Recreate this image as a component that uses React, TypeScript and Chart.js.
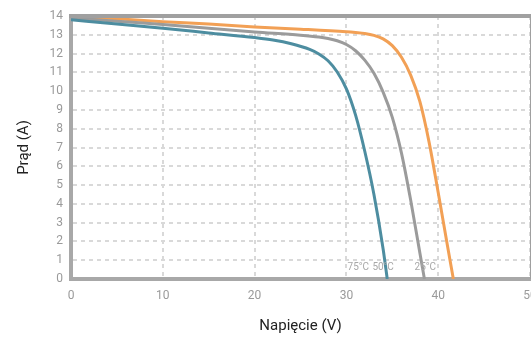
import React, { useEffect, useRef } from "react";
import { Chart, registerables } from "chart.js";

Chart.register(...registerables);

const v75 = [0, 5, 10, 15, 20, 22, 24, 26, 27, 28, 29, 30, 31, 32, 33, 34, 34.45];
const i75 = [13.8, 13.57, 13.35, 13.1, 12.85, 12.72, 12.52, 12.22, 11.98, 11.62, 11.02, 10.12, 8.72, 6.8, 4.5, 1.6, 0];

const v50 = [0, 5, 10, 15, 20, 25, 27, 28, 29, 30, 31, 32, 33, 34, 35, 36, 37, 38, 38.5];
const i50 = [13.9, 13.72, 13.55, 13.35, 13.15, 12.98, 12.88, 12.8, 12.68, 12.48, 12.15, 11.65, 10.95, 9.95, 8.6, 6.7, 4.2, 1.4, 0];

const v25 = [0, 5, 10, 15, 20, 25, 30, 31, 32, 33, 34, 35, 36, 37, 38, 39, 40, 41, 41.65];
const i25 = [14.0, 13.85, 13.7, 13.58, 13.42, 13.3, 13.16, 13.12, 13.07, 12.97, 12.78, 12.42, 11.8, 10.85, 9.45, 7.3, 4.6, 1.8, 0];

const tempLabels = ["75°C", "50°C", "25°C"];
const tempLabelX = [31.3, 34.0, 38.6];
const tempLabelY = 0.61;

const xTitle = "Napięcie (V)";
const yTitle = "Prąd (A)";

const colors = ["#4d8da0", "#9b9b9b", "#f2a055"];

const toPts = (xs: number[], ys: number[]) => xs.map((x, k) => ({ x, y: ys[k] }));

const framePlugin = {
  id: "frame",
  afterDatasetsDraw(chart: any) {
    const { ctx, chartArea, scales } = chart;
    ctx.save();
    ctx.strokeStyle = "#a0a0a0";
    ctx.lineWidth = 4;
    ctx.beginPath();
    ctx.moveTo(chartArea.left - 2, chartArea.top);
    ctx.lineTo(chartArea.right + 2, chartArea.top);
    ctx.stroke();
    ctx.lineWidth = 2;
    ctx.beginPath();
    ctx.moveTo(chartArea.right + 1, chartArea.top);
    ctx.lineTo(chartArea.right + 1, chartArea.bottom);
    ctx.stroke();
    ctx.fillStyle = "#a8a8a8";
    ctx.font = "10px Roboto";
    ctx.textAlign = "center";
    ctx.textBaseline = "middle";
    tempLabels.forEach((t, k) => {
      ctx.fillText(t, scales.x.getPixelForValue(tempLabelX[k]), scales.y.getPixelForValue(tempLabelY));
    });
    ctx.restore();
  },
};

export default function App() {
  const ref = useRef<HTMLCanvasElement>(null);
  useEffect(() => {
    const chart = new Chart(ref.current!, {
      type: "scatter",
      data: {
        datasets: [
          { label: tempLabels[0], data: toPts(v75, i75), borderColor: colors[0] },
          { label: tempLabels[1], data: toPts(v50, i50), borderColor: colors[1] },
          { label: tempLabels[2], data: toPts(v25, i25), borderColor: colors[2] },
        ].map((d) => ({
          ...d,
          showLine: true,
          pointRadius: 0,
          borderWidth: 3,
          cubicInterpolationMode: "monotone" as const,
          backgroundColor: d.borderColor,
        })),
      },
      options: {
        responsive: false,
        animation: false,
        layout: { padding: { top: 16, right: 1, left: 0, bottom: 0 } },
        plugins: { legend: { display: false }, tooltip: { enabled: false } },
        scales: {
          x: {
            type: "linear",
            min: 0,
            max: 50,
            afterFit: (s: any) => { s.height = 58; s.paddingRight = 0; s.paddingLeft = 0; },
            ticks: { stepSize: 10, color: "#9a9a9a", padding: 10, font: { size: 12, family: "Roboto" } },
            grid: { color: "#d9d9d9", lineWidth: 2, drawTicks: false },
            border: { display: true, width: 4, color: "#a8a8a8", dash: [4, 4] },
            title: { display: true, text: xTitle, color: "#222", font: { size: 15, family: "Roboto" }, padding: { top: 0, bottom: 2 } },
          },
          y: {
            type: "linear",
            min: 0,
            max: 14,
            afterFit: (s: any) => { s.width = 71; s.paddingTop = 0; s.paddingBottom = 0; },
            ticks: { stepSize: 1, color: "#9a9a9a", padding: 8, font: { size: 12, family: "Roboto" } },
            grid: { color: "#d9d9d9", lineWidth: 2, drawTicks: false },
            border: { display: true, width: 4, color: "#a8a8a8", dash: [4, 4] },
            title: { display: true, text: yTitle, color: "#222", font: { size: 15, family: "Roboto" }, padding: { top: 15, bottom: 0 } },
          },
        },
      },
      plugins: [framePlugin],
    });
    return () => chart.destroy();
  }, []);
  return (
    <div style={{ position: "fixed", left: 0, top: 0, width: 531, height: 337, background: "#fff" }}>
      <canvas ref={ref} width={531} height={337} />
    </div>
  );
}
